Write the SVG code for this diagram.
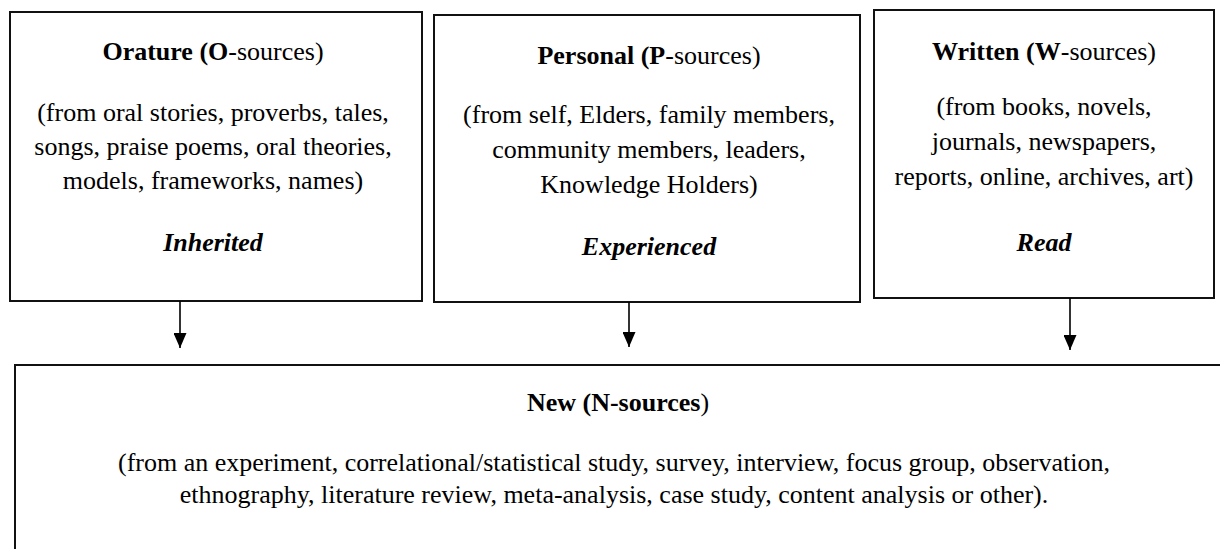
<svg xmlns="http://www.w3.org/2000/svg" width="1220" height="549" viewBox="0 0 1220 549">
<style>
.box{fill:#fff;stroke:#111;stroke-width:2}
.t{font-size:26px;fill:#000;text-anchor:middle}
.b{font-weight:bold}
.bi{font-weight:bold;font-style:italic}
.conn line{stroke:#000;stroke-width:1.6}
</style>
<defs>
<marker id="ah" viewBox="0 0 15 13" refX="15" refY="6.5" markerWidth="15" markerHeight="13" markerUnits="userSpaceOnUse" orient="auto">
<path d="M0,0 L15,6.5 L0,13 Z" fill="#000"/>
</marker>
</defs>
<g id="orature" class="t" style="font-family:'Liberation Serif','Times New Roman',serif">
<rect class="box" x="10" y="12" width="412" height="289"/>
<text x="213" y="60"><tspan class="b">Orature (O</tspan>-sources)</text>
<text x="213" y="121">(from oral stories, proverbs, tales,</text>
<text x="213" y="155">songs, praise poems, oral theories,</text>
<text x="213" y="189">models, frameworks, names)</text>
<text x="213" y="251" class="bi">Inherited</text>
</g>
<g id="personal" class="t" style="font-family:'Liberation Serif','Times New Roman',serif">
<rect class="box" x="434" y="15" width="426" height="287"/>
<text x="649" y="64"><tspan class="b">Personal (P</tspan>-sources)</text>
<text x="649" y="123">(from self, Elders, family members,</text>
<text x="649" y="158">community members, leaders,</text>
<text x="649" y="193">Knowledge Holders)</text>
<text x="649" y="255" class="bi">Experienced</text>
</g>
<g id="written" class="t" style="font-family:'Liberation Serif','Times New Roman',serif">
<rect class="box" x="874" y="10" width="340" height="288"/>
<text x="1044" y="60"><tspan class="b">Written (W</tspan>-sources)</text>
<text x="1044" y="115">(from books, novels,</text>
<text x="1044" y="150">journals, newspapers,</text>
<text x="1044" y="185">reports, online, archives, art)</text>
<text x="1044" y="251" class="bi">Read</text>
</g>
<g id="new" class="t" style="font-family:'Liberation Serif','Times New Roman',serif">
<rect class="box" x="15" y="365" width="1215" height="200"/>
<text x="618" y="411"><tspan class="b">New (N-sources</tspan>)</text>
<text x="614" y="471">(from an experiment, correlational/statistical study, survey, interview, focus group, observation,</text>
<text x="614" y="503">ethnography, literature review, meta-analysis, case study, content analysis or other).</text>
</g>
<g class="conn">
<line x1="180" y1="301" x2="180" y2="348" marker-end="url(#ah)"/>
<line x1="629" y1="302" x2="629" y2="347" marker-end="url(#ah)"/>
<line x1="1070" y1="298" x2="1070" y2="350" marker-end="url(#ah)"/>
</g>
</svg>
